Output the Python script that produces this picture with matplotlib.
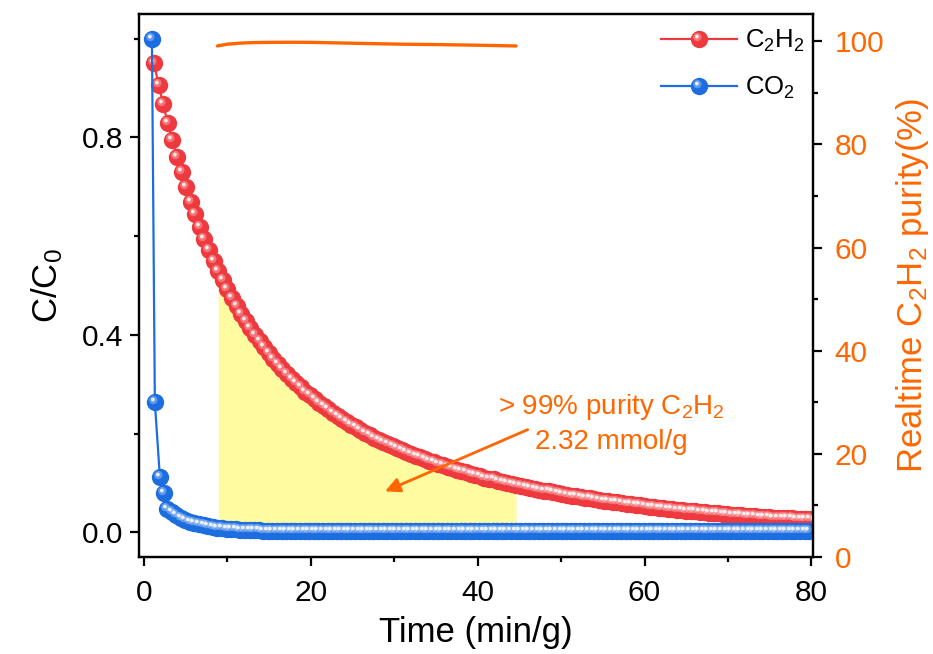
import numpy as np
import matplotlib
matplotlib.use('Agg')
import matplotlib.pyplot as plt
from matplotlib.path import Path
from matplotlib.ticker import MultipleLocator, FormatStrFormatter
from matplotlib.legend_handler import HandlerTuple

plt.rcParams['font.family'] = ['Liberation Sans', 'DejaVu Sans']
plt.rcParams['mathtext.fontset'] = 'custom'
plt.rcParams['mathtext.rm'] = 'Liberation Sans'
plt.rcParams['mathtext.it'] = 'Liberation Sans:italic'
plt.rcParams['mathtext.bf'] = 'Liberation Sans:bold'

# ---------------- data ----------------
# sampling interval of the outlet readings (min/g)
STEP = 0.55

# C2H2 outlet concentration, first reading at 1.2 min/g
T0_C2H2 = 1.2
c_c2h2 = [
    0.950, 0.907, 0.867, 0.829, 0.794, 0.760, 0.729, 0.699, 0.670, 0.644, 0.618, 0.594, 0.572, 0.550, 0.530,
    0.511, 0.492, 0.475, 0.458, 0.443, 0.428, 0.413, 0.400, 0.387, 0.375, 0.363, 0.352, 0.341, 0.331, 0.321,
    0.311, 0.302, 0.294, 0.285, 0.278, 0.270, 0.262, 0.255, 0.249, 0.242, 0.236, 0.230, 0.224, 0.218, 0.213,
    0.207, 0.202, 0.197, 0.192, 0.188, 0.183, 0.179, 0.175, 0.171, 0.167, 0.163, 0.159, 0.155, 0.152, 0.149,
    0.145, 0.142, 0.139, 0.136, 0.133, 0.130, 0.127, 0.124, 0.122, 0.119, 0.116, 0.114, 0.111, 0.109, 0.107,
    0.104, 0.102, 0.100, 0.098, 0.096, 0.094, 0.092, 0.090, 0.088, 0.086, 0.084, 0.083, 0.081, 0.079, 0.078,
    0.076, 0.074, 0.073, 0.071, 0.070, 0.069, 0.067, 0.066, 0.064, 0.063, 0.062, 0.061, 0.059, 0.058, 0.057,
    0.056, 0.055, 0.053, 0.052, 0.051, 0.050, 0.049, 0.048, 0.047, 0.046, 0.045, 0.044, 0.044, 0.043, 0.042,
    0.041, 0.040, 0.039, 0.039, 0.038, 0.037, 0.036, 0.036, 0.035, 0.034, 0.033, 0.033, 0.032, 0.031, 0.031,
    0.030, 0.030, 0.029, 0.028, 0.028, 0.027, 0.027, 0.026, 0.026, 0.025,
]

# CO2 outlet concentration: four early readings, then the regular series from 2.75 min/g
t_co2_head = [0.95, 1.3, 1.9, 2.4]
c_co2_head = [1.0, 0.263, 0.113, 0.079]
T0_CO2 = 2.75
c_co2_tail = [
    0.0470, 0.0402, 0.0344, 0.0294, 0.0253, 0.0217, 0.0187, 0.0162, 0.0140, 0.0122, 0.0106, 0.0093,
    0.0082, 0.0073, 0.0065, 0.0058, 0.0052, 0.0047, 0.0043, 0.0040, 0.0037, 0.0034, 0.0032, 0.0030,
    0.0029, 0.0027, 0.0026, 0.0025, 0.0024, 0.0024, 0.0023, 0.0023, 0.0022, 0.0022, 0.0022, 0.0021,
    0.0021, 0.0021, 0.0021, 0.0021, 0.0020, 0.0020, 0.0020, 0.0020, 0.0020, 0.0020, 0.0020, 0.0020,
    0.0020, 0.0020, 0.0020, 0.0020, 0.0020, 0.0020, 0.0020, 0.0020, 0.0020, 0.0020, 0.0020, 0.0020,
    0.0020, 0.0020, 0.0020, 0.0020, 0.0020, 0.0020, 0.0020, 0.0020, 0.0020, 0.0020, 0.0020, 0.0020,
    0.0020, 0.0020, 0.0020, 0.0020, 0.0020, 0.0020, 0.0020, 0.0020, 0.0020, 0.0020, 0.0020, 0.0020,
    0.0020, 0.0020, 0.0020, 0.0020, 0.0020, 0.0020, 0.0020, 0.0020, 0.0020, 0.0020, 0.0020, 0.0020,
    0.0020, 0.0020, 0.0020, 0.0020, 0.0020, 0.0020, 0.0020, 0.0020, 0.0020, 0.0020, 0.0020, 0.0020,
    0.0020, 0.0020, 0.0020, 0.0020, 0.0020, 0.0020, 0.0020, 0.0020, 0.0020, 0.0020, 0.0020, 0.0020,
    0.0020, 0.0020, 0.0020, 0.0020, 0.0020, 0.0020, 0.0020, 0.0020, 0.0020, 0.0020, 0.0020, 0.0020,
    0.0020, 0.0020, 0.0020, 0.0020, 0.0020, 0.0020, 0.0020, 0.0020, 0.0020,
]

# realtime C2H2 purity (%) during the collection window
t_purity = [8.8, 10.0, 11.5, 13.0, 15.0, 17.5, 20.0, 23.0, 26.0, 29.0, 32.0, 35.0, 38.0, 41.0, 44.6]
purity = [99.1, 99.45, 99.65, 99.75, 99.8, 99.82, 99.8, 99.7, 99.6, 99.5, 99.42, 99.37, 99.3, 99.22, 99.1]

# collection window of >99 % C2H2
window = (8.9, 44.6)

t_c2h2 = T0_C2H2 + STEP * np.arange(len(c_c2h2))
t_co2 = np.concatenate([t_co2_head, T0_CO2 + STEP * np.arange(len(c_co2_tail))])
c_co2 = np.concatenate([c_co2_head, c_co2_tail])
c_c2h2 = np.asarray(c_c2h2)

# ---------------- style ----------------
RED = '#EE3A3F'
BLUE = '#1C6EE0'
ORANGE = '#FF6600'
FILL = '#FFFBA0'


def spot(cx, cy, r):
    """Off-centre disc used as a specular highlight on the ball markers."""
    circ = Path.circle((cx, cy), r)
    verts = np.vstack([[[-1.0, -1.0], [1.0, 1.0]], circ.vertices])
    codes = np.concatenate([[Path.MOVETO, Path.MOVETO], circ.codes])
    return Path(verts, codes)


HALO = spot(-0.25, 0.28, 0.48)
CORE = spot(-0.3, 0.34, 0.22)

fig = plt.figure(figsize=(9.33, 6.54), dpi=100)
ax = fig.add_axes([139 / 933, 1 - 557 / 654, (813 - 139) / 933, (557 - 14) / 654])

# shaded high-purity window under the C2H2 curve
mask = (t_c2h2 >= window[0]) & (t_c2h2 <= window[1])
tt = np.concatenate([[window[0]], t_c2h2[mask], [window[1]]])
top = np.interp(tt, t_c2h2, c_c2h2)
ax.fill_between(tt, 0, top, color=FILL, lw=0, zorder=1)

MS = 12.5


def balls(t, c, color, z):
    base, = ax.plot(t, c, '-o', color=color, lw=1.6, ms=MS, mfc=color, mec='none', zorder=z)
    halo, = ax.plot(t, c, ls='none', marker=HALO, ms=MS, mfc=(1, 1, 1, 0.3), mec='none', zorder=z + 0.1)
    core, = ax.plot(t, c, ls='none', marker=CORE, ms=MS, mfc=(1, 1, 1, 0.85), mec='none', zorder=z + 0.2)
    return (base, halo, core)


h_red = balls(t_c2h2, c_c2h2, RED, 3)
h_blue = balls(t_co2, c_co2, BLUE, 4)

ax.set_xlim(-0.6, 80.2)
ax.set_ylim(-0.05, 1.05)
ax.xaxis.set_major_locator(MultipleLocator(20))
ax.xaxis.set_minor_locator(MultipleLocator(10))
ax.yaxis.set_major_locator(MultipleLocator(0.4))
ax.yaxis.set_minor_locator(MultipleLocator(0.2))
ax.yaxis.set_major_formatter(FormatStrFormatter('%.1f'))

for s in ax.spines.values():
    s.set_linewidth(1.6)
ax.tick_params(which='major', direction='out', length=6.5, width=1.6, labelsize=21.5, pad=5)
ax.tick_params(which='minor', direction='out', length=3.5, width=1.6)
ax.tick_params(axis='x', which='major', pad=9)
ax.tick_params(axis='y', which='both', right=False)

ax.set_xlabel('Time (min/g)', fontsize=25, labelpad=7)
ax.set_ylabel('C/C$_0$', fontsize=25, labelpad=12)

ax2 = ax.twinx()
ax2.plot(t_purity, purity, color=ORANGE, lw=2.4, solid_capstyle='round')
ax2.set_ylim(0, 105.3)
ax2.yaxis.set_major_locator(MultipleLocator(20))
ax2.yaxis.set_minor_locator(MultipleLocator(10))
for s in ax2.spines.values():
    s.set_linewidth(1.6)
ax2.tick_params(which='major', direction='out', length=6.5, width=1.6, labelsize=21.5,
                colors='black', labelcolor=ORANGE, pad=9)
ax2.tick_params(which='minor', direction='out', length=3.5, width=1.6)
ax2.set_ylabel('Realtime C$_2$H$_2$ purity(%)', fontsize=25, color=ORANGE, labelpad=7)

ax.annotate('', xy=(28.9, 0.083), xytext=(46.0, 0.208),
            arrowprops=dict(arrowstyle='-|>', color=ORANGE, lw=2, mutation_scale=22,
                            shrinkA=0, shrinkB=0), zorder=6)
ax.text(56.0, 0.253, '> 99% purity C$_2$H$_2$', ha='center', va='center', color=ORANGE, fontsize=20, zorder=6)
ax.text(56.0, 0.182, '2.32 mmol/g', ha='center', va='center', color=ORANGE, fontsize=20, zorder=6)

leg = ax.legend([h_red, h_blue], ['C$_2$H$_2$', 'CO$_2$'],
                handler_map={tuple: HandlerTuple(ndivide=1, pad=0)},
                loc='upper left', bbox_to_anchor=(661 / 933, 1 - 28 / 654),
                bbox_transform=fig.transFigure, frameon=False, fontsize=18.5,
                handlelength=2.95, handletextpad=0.3, labelspacing=0.81,
                borderpad=0, borderaxespad=0, numpoints=1)

fig.savefig('out.png', dpi=100)
